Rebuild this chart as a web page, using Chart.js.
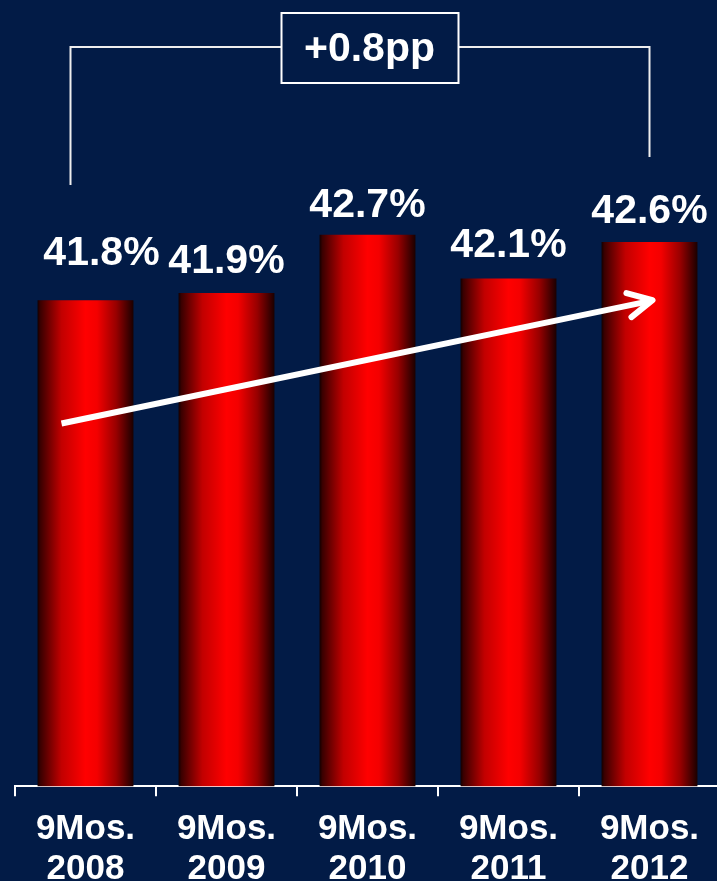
<!DOCTYPE html>
<html>
<head>
<meta charset="utf-8">
<script src="https://cdn.jsdelivr.net/npm/chart.js@4"></script>
<style>
  html, body { margin: 0; padding: 0; background: #021b46; overflow: hidden; }
  #wrap { position: relative; width: 720px; height: 910px; }
</style>
</head>
<body>
<div id="wrap"><canvas id="shareCanvas"></canvas></div>
<script>
// Periods and share values (%)
const periods = [['9Mos.', '2008'], ['9Mos.', '2009'], ['9Mos.', '2010'], ['9Mos.', '2011'], ['9Mos.', '2012']];
const shares = [41.8, 41.9, 42.7, 42.1, 42.6];
const changeText = '+0.8pp';
// trend arrow runs between these two levels
const trendFrom = 40.1;
const trendTo = 41.8;

// small per-label nudges for the value labels
const labelNudge = [[16, -16], [0, -1], [0, 1], [0, -3], [0, 0]];

const FONT = 'Arial, "Liberation Sans", sans-serif';
const WHITE = '#ffffff';

function barGradient(context) {
    const chart = context.chart;
    const xs = chart.scales.x;
    if (!xs || !chart.chartArea) return '#ff0000';
    const cw = (xs.right - xs.left) / periods.length;
    const w = cw * 0.68;
    const cx = xs.getPixelForValue(context.dataIndex);
    const g = chart.ctx.createLinearGradient(cx - w / 2, 0, cx + w / 2, 0);
    g.addColorStop(0, '#120000');
    g.addColorStop(0.03, '#3a0000');
    g.addColorStop(0.25, '#c20000');
    g.addColorStop(0.5, '#ff0000');
    g.addColorStop(0.62, '#f40000');
    g.addColorStop(0.82, '#980000');
    g.addColorStop(1, '#1a0000');
    return g;
}

// value labels above the bars
const valueLabels = {
    id: 'valueLabels',
    afterDatasetsDraw(chart) {
        const ctx = chart.ctx;
        const meta = chart.getDatasetMeta(0);
        ctx.save();
        ctx.fillStyle = WHITE;
        ctx.font = 'bold 41px ' + FONT;
        ctx.textAlign = 'center';
        ctx.textBaseline = 'middle';
        meta.data.forEach((bar, i) => {
            const n = labelNudge[i];
            ctx.fillText(shares[i].toFixed(1) + '%', bar.x + n[0], bar.y - 30 + n[1]);
        });
        ctx.restore();
    }
};

// bracket with the change box, and the trend arrow
const changeMarks = {
    id: 'changeMarks',
    afterDatasetsDraw(chart) {
        const ctx = chart.ctx;
        const xs = chart.scales.x;
        const ys = chart.scales.y;
        const first = xs.getPixelForValue(0);
        const last = xs.getPixelForValue(periods.length - 1);
        const mid = xs.getPixelForValue(2) + 2;

        ctx.save();
        // bracket
        ctx.strokeStyle = '#eeeeee';
        ctx.lineWidth = 2;
        const top = 47;
        const boxL = mid - 88, boxR = mid + 89;
        ctx.beginPath();
        ctx.moveTo(first - 15, 185);
        ctx.lineTo(first - 15, top);
        ctx.lineTo(boxL, top);
        ctx.moveTo(boxR, top);
        ctx.lineTo(last, top);
        ctx.lineTo(last, 157);
        ctx.stroke();

        ctx.strokeStyle = WHITE;
        ctx.strokeRect(boxL, 13, boxR - boxL, 70);
        ctx.fillStyle = WHITE;
        ctx.font = 'bold 41px ' + FONT;
        ctx.textAlign = 'center';
        ctx.textBaseline = 'middle';
        ctx.fillText(changeText, mid, 50);

        // trend arrow
        const x0 = first - 24, y0 = ys.getPixelForValue(trendFrom);
        const x1 = last + 3, y1 = ys.getPixelForValue(trendTo);
        ctx.lineWidth = 6;
        ctx.lineCap = 'butt';
        ctx.beginPath();
        ctx.moveTo(x0, y0);
        ctx.lineTo(x1 - 3, y1 + 1);
        ctx.stroke();
        const ang = Math.atan2(y1 - y0, x1 - x0);
        const len = 27, spread = 27 * Math.PI / 180;
        ctx.lineCap = 'round';
        ctx.lineJoin = 'round';
        ctx.beginPath();
        ctx.moveTo(x1 - len * Math.cos(ang - spread), y1 - len * Math.sin(ang - spread));
        ctx.lineTo(x1, y1);
        ctx.lineTo(x1 - len * Math.cos(ang + spread), y1 - len * Math.sin(ang + spread));
        ctx.stroke();
        ctx.restore();
    }
};

const shareContext = document.getElementById('shareCanvas').getContext('2d');

new Chart(shareContext, {
    type: 'bar',
    data: {
        labels: periods,
        datasets: [
            {
                data: shares,
                backgroundColor: barGradient,
                borderWidth: 0,
                categoryPercentage: 0.68,
                barPercentage: 1
            }
        ]
    },
    options: {
        responsive: true,
        maintainAspectRatio: false,
        animation: false,
        layout: {
            padding: { top: 68, left: 15, right: 0, bottom: 8 }
        },
        scales: {
            x: {
                grid: {
                    display: true,
                    offset: true,
                    drawOnChartArea: false,
                    drawTicks: true,
                    tickLength: 10,
                    color: WHITE,
                    lineWidth: 2
                },
                border: { display: true, color: WHITE, width: 2 },
                ticks: {
                    color: WHITE,
                    padding: 13,
                    maxRotation: 0,
                    autoSkip: false,
                    font: { family: FONT, size: 35, weight: 'bold', lineHeight: 1.14 }
                }
            },
            y: {
                display: false,
                min: 35.1,
                max: 45
            }
        },
        plugins: {
            legend: { display: false },
            tooltip: { enabled: false }
        }
    },
    plugins: [valueLabels, changeMarks]
});
</script>
</body>
</html>
